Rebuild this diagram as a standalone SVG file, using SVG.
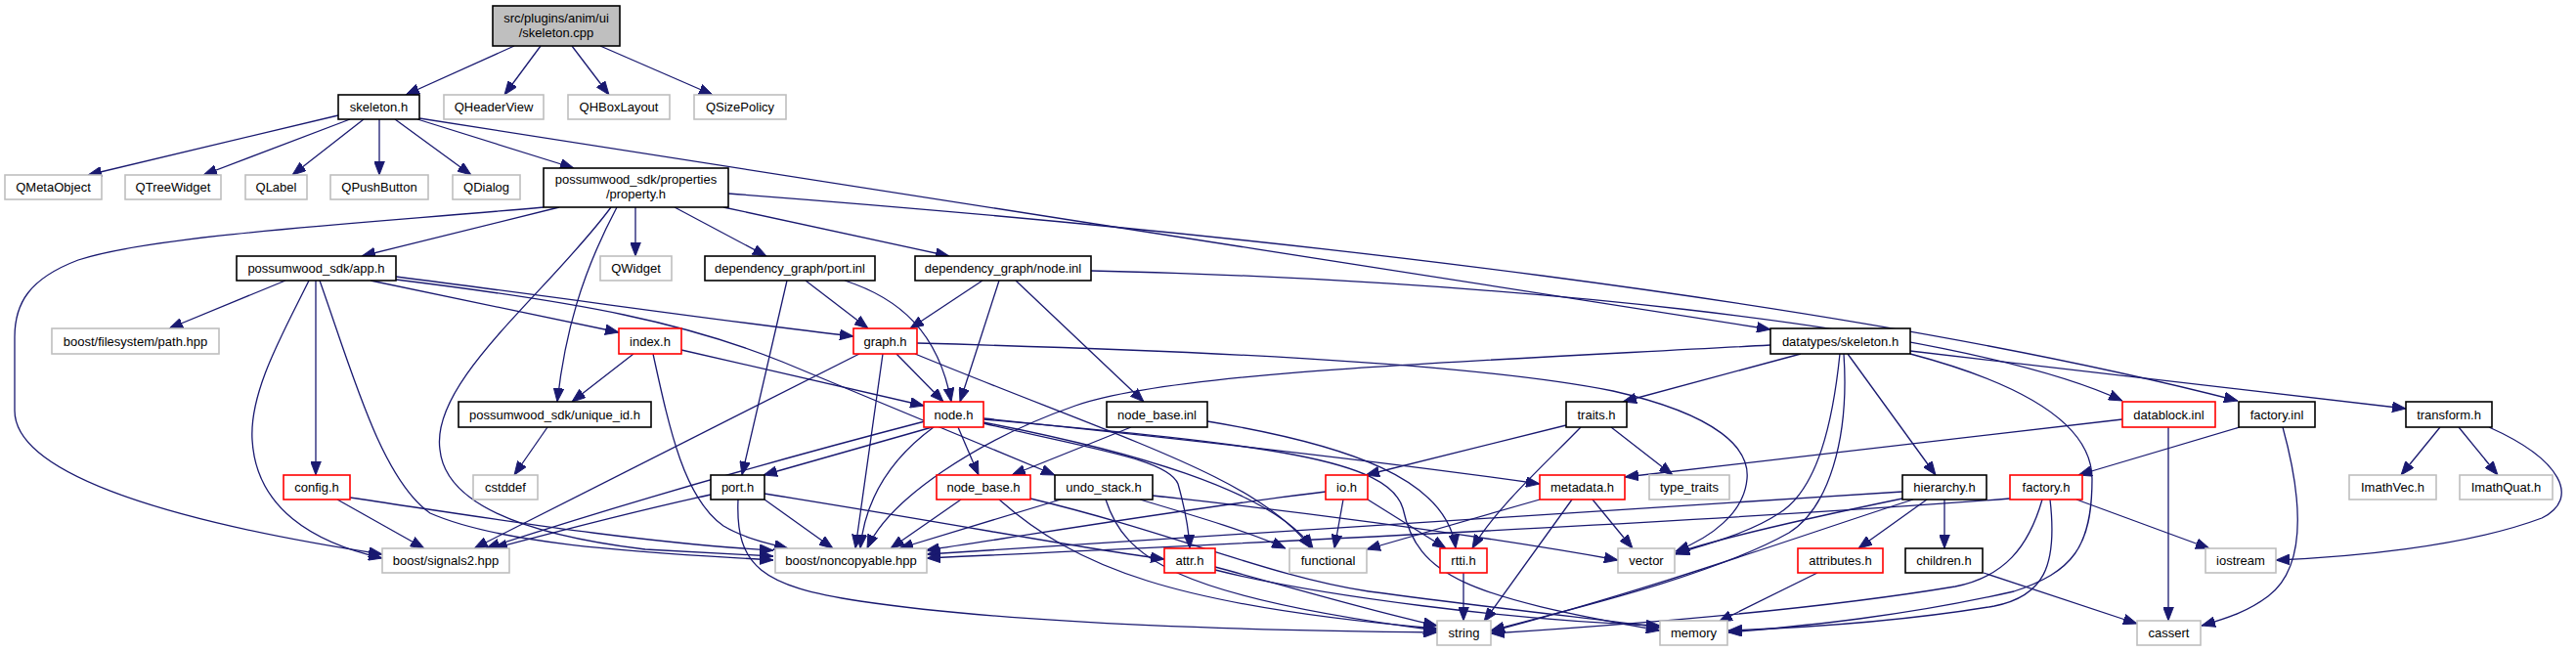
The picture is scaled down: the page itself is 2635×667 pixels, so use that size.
<svg xmlns="http://www.w3.org/2000/svg" width="2635" height="667" viewBox="0 0 2635 667">
<style>
rect{fill:#ffffff;stroke-width:1.6}
.b rect{stroke:#000000}
.g rect{stroke:#bfbfbf}
.r rect{stroke:#ff0000}
.root rect{fill:#bfbfbf;stroke:#000000}
text{font-family:"Liberation Sans",Arial,Helvetica,sans-serif;font-size:13px;text-anchor:middle;fill:#000000}
#edges path{fill:none;stroke:#191970;stroke-width:1.3}
</style>
<defs>
<marker id="a" markerUnits="userSpaceOnUse" markerWidth="14" markerHeight="11" viewBox="0 0 13 10" refX="13" refY="5" orient="auto">
<path d="M0,0 L13,5 L0,10 z" fill="#191970" stroke="#191970" stroke-width="0.8"/>
</marker>
</defs>
<rect x="0" y="0" width="2635" height="667" style="fill:#ffffff;stroke:none"/>
<g id="edges" marker-end="url(#a)">
<path d="M526,47 L415,97"/>
<path d="M553,47 L516,97"/>
<path d="M585,47 L623,97"/>
<path d="M614,47 L729,97"/>
<path d="M346,118 L90,179"/>
<path d="M358,122 L208,179"/>
<path d="M372,122 L299,179"/>
<path d="M388,122 L388,179"/>
<path d="M404,122 L482,179"/>
<path d="M427,122 L587,172"/>
<path d="M429,121 L1811,337"/>
<path d="M572,212 L370,262"/>
<path d="M556,212 C 380,228 160,240 80,266 C 30,285 15,310 15,345 L 15,420 C 15,480 150,530 391,567"/>
<path d="M625,212 C 560,300 440,390 450,460 C 455,510 520,545 660,562 L 791,569"/>
<path d="M631,212 C 595,280 578,340 570,411"/>
<path d="M650,212 L650,262"/>
<path d="M690,212 L784,262"/>
<path d="M740,212 L971,262"/>
<path d="M745,198 C 1300,240 1900,310 2289,410"/>
<path d="M292,287 L173,336"/>
<path d="M316,287 C 290,340 255,400 258,450 C 262,520 320,555 391,571"/>
<path d="M323,287 L323,486"/>
<path d="M327,287 C 360,380 390,490 440,525 C 520,560 680,566 791,573"/>
<path d="M379,287 L633,340"/>
<path d="M405,283 C 600,308 750,330 873,344"/>
<path d="M405,286 C 600,310 700,330 800,370 L 1079,486"/>
<path d="M805,287 L759,486"/>
<path d="M824,287 L888,336"/>
<path d="M864,287 C 920,305 960,340 973,411"/>
<path d="M1005,287 L931,336"/>
<path d="M1022,287 L982,411"/>
<path d="M1039,287 L1170,411"/>
<path d="M1116,277 C 1500,285 2000,330 2171,410"/>
<path d="M648,362 L585,411"/>
<path d="M697,358 L945,415"/>
<path d="M668,362 C 685,440 700,510 740,538 C 760,550 785,556 806,561"/>
<path d="M879,362 L485,561"/>
<path d="M903,362 L875,561"/>
<path d="M917,362 L965,411"/>
<path d="M938,351 C 1200,358 1500,370 1650,400 C 1760,425 1790,460 1787,490 C 1784,525 1750,550 1714,564"/>
<path d="M936,362 C 1150,450 1290,490 1341,561"/>
<path d="M957,436 L781,486"/>
<path d="M946,431 Q 700,495 497,561"/>
<path d="M955,437 C 910,470 885,510 880,561"/>
<path d="M980,437 L1001,486"/>
<path d="M1006,433 C 1120,460 1195,470 1205,495 C 1212,520 1216,540 1217,561"/>
<path d="M1006,428 C 1200,448 1400,470 1575,495"/>
<path d="M1006,429 C 1300,455 1420,470 1435,520 C 1450,590 1500,610 1698,645"/>
<path d="M1006,432 C 1150,460 1300,500 1343,561"/>
<path d="M727,506 Q 640,525 505,561"/>
<path d="M782,511 L852,561"/>
<path d="M782,505 C 1000,540 1100,560 1191,572"/>
<path d="M755,511 C 752,580 780,600 880,615 C 1050,640 1300,645 1470,647"/>
<path d="M983,511 L911,561"/>
<path d="M1022,511 C 1100,580 1200,620 1470,643"/>
<path d="M1054,510 C 1200,545 1300,590 1400,605 C 1550,625 1650,635 1698,642"/>
<path d="M1085,511 L920,561"/>
<path d="M1131,511 C 1150,570 1200,610 1470,645"/>
<path d="M1166,511 C 1230,530 1280,545 1315,561"/>
<path d="M1179,507 C 1300,520 1500,545 1655,573"/>
<path d="M1243,580 C 1300,595 1400,625 1470,640"/>
<path d="M1243,583 C 1350,610 1550,635 1698,640"/>
<path d="M1157,437 L1035,486"/>
<path d="M1235,431 C 1380,455 1480,490 1489,561"/>
<path d="M1811,353 C 1500,370 1200,380 1100,415 C 1000,450 910,510 887,561"/>
<path d="M1842,362 L1660,411"/>
<path d="M1882,362 C 1875,430 1860,500 1820,525 C 1790,545 1750,555 1714,567"/>
<path d="M1886,362 C 1892,450 1870,520 1830,545 C 1750,590 1600,625 1525,645"/>
<path d="M1890,362 L1980,486"/>
<path d="M1954,362 C 2060,390 2140,430 2140,490 C 2140,560 2120,585 2060,605 C 1950,630 1850,640 1768,647"/>
<path d="M1954,359 L2461,418"/>
<path d="M1602,435 L1397,486"/>
<path d="M1617,437 C 1580,475 1530,520 1506,561"/>
<path d="M1648,437 L1711,486"/>
<path d="M1374,511 L1365,561"/>
<path d="M1399,511 L1479,561"/>
<path d="M1356,503 C 1200,522 1050,548 947,563"/>
<path d="M1575,511 L1398,562"/>
<path d="M1608,511 L1518,636"/>
<path d="M1629,511 L1670,561"/>
<path d="M1497,586 L1497,635"/>
<path d="M1946,503 C 1800,512 1400,540 948,567"/>
<path d="M1946,510 C 1850,530 1760,550 1714,566"/>
<path d="M1957,511 C 1850,545 1700,600 1525,646"/>
<path d="M1971,511 L1901,561"/>
<path d="M1989,511 L1989,561"/>
<path d="M1859,586 L1758,636"/>
<path d="M2029,586 L2186,638"/>
<path d="M2056,510 C 1800,530 1400,550 948,571"/>
<path d="M2089,511 C 2075,560 2050,590 2000,600 C 1850,625 1650,640 1525,648"/>
<path d="M2097,511 C 2105,580 2090,610 2040,620 C 1950,635 1850,642 1768,645"/>
<path d="M2124,511 L2260,561"/>
<path d="M2171,429 L1662,488"/>
<path d="M2218,437 L2218,635"/>
<path d="M2291,437 L2126,486"/>
<path d="M2335,437 C 2355,510 2360,580 2320,610 C 2300,625 2280,632 2252,640"/>
<path d="M2496,437 L2456,486"/>
<path d="M2515,437 L2555,486"/>
<path d="M2546,437 C 2620,470 2640,510 2600,530 C 2520,560 2400,570 2328,573"/>
<path d="M345,511 L434,561"/>
<path d="M358,509 C 500,530 650,555 791,563"/>
<path d="M560,437 L526,486"/>
</g>
<g id="n_cpp" class="root"><rect x="504" y="6" width="130" height="41"/><text x="569" y="23">src/plugins/anim/ui</text><text x="569" y="38">/skeleton.cpp</text></g>
<g id="n_skeleton_h" class="b"><rect x="346" y="97" width="83" height="25"/><text x="387.5" y="114">skeleton.h</text></g>
<g id="n_QHeaderView" class="g"><rect x="454" y="97" width="102" height="25"/><text x="505" y="114">QHeaderView</text></g>
<g id="n_QHBoxLayout" class="g"><rect x="581" y="97" width="104" height="25"/><text x="633" y="114">QHBoxLayout</text></g>
<g id="n_QSizePolicy" class="g"><rect x="710" y="97" width="94" height="25"/><text x="757" y="114">QSizePolicy</text></g>
<g id="n_QMetaObject" class="g"><rect x="5" y="179" width="99" height="25"/><text x="54.5" y="196">QMetaObject</text></g>
<g id="n_QTreeWidget" class="g"><rect x="128" y="179" width="98" height="25"/><text x="177" y="196">QTreeWidget</text></g>
<g id="n_QLabel" class="g"><rect x="251" y="179" width="63" height="25"/><text x="282.5" y="196">QLabel</text></g>
<g id="n_QPushButton" class="g"><rect x="338" y="179" width="100" height="25"/><text x="388" y="196">QPushButton</text></g>
<g id="n_QDialog" class="g"><rect x="463" y="179" width="69" height="25"/><text x="497.5" y="196">QDialog</text></g>
<g id="n_property_h" class="b"><rect x="556" y="172" width="189" height="40"/><text x="650.5" y="188">possumwood_sdk/properties</text><text x="650.5" y="203">/property.h</text></g>
<g id="n_app_h" class="b"><rect x="242" y="262" width="163" height="25"/><text x="323.5" y="279">possumwood_sdk/app.h</text></g>
<g id="n_QWidget" class="g"><rect x="614" y="262" width="73" height="25"/><text x="650.5" y="279">QWidget</text></g>
<g id="n_port_inl" class="b"><rect x="721" y="262" width="174" height="25"/><text x="808" y="279">dependency_graph/port.inl</text></g>
<g id="n_node_inl" class="b"><rect x="936" y="262" width="180" height="25"/><text x="1026" y="279">dependency_graph/node.inl</text></g>
<g id="n_path_hpp" class="g"><rect x="53" y="336" width="171" height="26"/><text x="138.5" y="353.5">boost/filesystem/path.hpp</text></g>
<g id="n_index_h" class="r"><rect x="633" y="336" width="64" height="26"/><text x="665" y="353.5">index.h</text></g>
<g id="n_graph_h" class="r"><rect x="873" y="336" width="65" height="26"/><text x="905.5" y="353.5">graph.h</text></g>
<g id="n_dt_skeleton_h" class="b"><rect x="1811" y="336" width="143" height="26"/><text x="1882.5" y="353.5">datatypes/skeleton.h</text></g>
<g id="n_unique_id_h" class="b"><rect x="469" y="411" width="197" height="26"/><text x="567.5" y="428.5">possumwood_sdk/unique_id.h</text></g>
<g id="n_node_h" class="r"><rect x="945" y="411" width="61" height="26"/><text x="975.5" y="428.5">node.h</text></g>
<g id="n_node_base_inl" class="b"><rect x="1132" y="411" width="103" height="26"/><text x="1183.5" y="428.5">node_base.inl</text></g>
<g id="n_traits_h" class="b"><rect x="1602" y="411" width="62" height="26"/><text x="1633" y="428.5">traits.h</text></g>
<g id="n_datablock_inl" class="r"><rect x="2171" y="411" width="95" height="26"/><text x="2218.5" y="428.5">datablock.inl</text></g>
<g id="n_factory_inl" class="b"><rect x="2290" y="411" width="78" height="26"/><text x="2329" y="428.5">factory.inl</text></g>
<g id="n_transform_h" class="b"><rect x="2461" y="411" width="88" height="26"/><text x="2505" y="428.5">transform.h</text></g>
<g id="n_config_h" class="r"><rect x="290" y="486" width="68" height="25"/><text x="324" y="503">config.h</text></g>
<g id="n_cstddef" class="g"><rect x="484" y="486" width="66" height="25"/><text x="517" y="503">cstddef</text></g>
<g id="n_port_h" class="b"><rect x="727" y="486" width="55" height="25"/><text x="754.5" y="503">port.h</text></g>
<g id="n_node_base_h" class="r"><rect x="958" y="486" width="96" height="25"/><text x="1006" y="503">node_base.h</text></g>
<g id="n_undo_stack_h" class="b"><rect x="1079" y="486" width="100" height="25"/><text x="1129" y="503">undo_stack.h</text></g>
<g id="n_io_h" class="r"><rect x="1356" y="486" width="43" height="25"/><text x="1377.5" y="503">io.h</text></g>
<g id="n_metadata_h" class="r"><rect x="1575" y="486" width="87" height="25"/><text x="1618.5" y="503">metadata.h</text></g>
<g id="n_type_traits" class="g"><rect x="1687" y="486" width="82" height="25"/><text x="1728" y="503">type_traits</text></g>
<g id="n_hierarchy_h" class="b"><rect x="1946" y="486" width="86" height="25"/><text x="1989" y="503">hierarchy.h</text></g>
<g id="n_factory_h" class="r"><rect x="2056" y="486" width="74" height="25"/><text x="2093" y="503">factory.h</text></g>
<g id="n_ImathVec_h" class="g"><rect x="2403" y="486" width="89" height="25"/><text x="2447.5" y="503">ImathVec.h</text></g>
<g id="n_ImathQuat_h" class="g"><rect x="2516" y="486" width="95" height="25"/><text x="2563.5" y="503">ImathQuat.h</text></g>
<g id="n_signals2_hpp" class="g"><rect x="391" y="561" width="130" height="25"/><text x="456" y="578">boost/signals2.hpp</text></g>
<g id="n_noncopyable_hpp" class="g"><rect x="793" y="561" width="155" height="25"/><text x="870.5" y="578">boost/noncopyable.hpp</text></g>
<g id="n_attr_h" class="r"><rect x="1191" y="561" width="52" height="25"/><text x="1217" y="578">attr.h</text></g>
<g id="n_functional" class="g"><rect x="1319" y="561" width="79" height="25"/><text x="1358.5" y="578">functional</text></g>
<g id="n_rtti_h" class="r"><rect x="1473" y="561" width="48" height="25"/><text x="1497" y="578">rtti.h</text></g>
<g id="n_vector" class="g"><rect x="1655" y="561" width="58" height="25"/><text x="1684" y="578">vector</text></g>
<g id="n_attributes_h" class="r"><rect x="1839" y="561" width="87" height="25"/><text x="1882.5" y="578">attributes.h</text></g>
<g id="n_children_h" class="b"><rect x="1949" y="561" width="79" height="25"/><text x="1988.5" y="578">children.h</text></g>
<g id="n_iostream" class="g"><rect x="2256" y="561" width="72" height="25"/><text x="2292" y="578">iostream</text></g>
<g id="n_string" class="g"><rect x="1470" y="635" width="55" height="25"/><text x="1497.5" y="652">string</text></g>
<g id="n_memory" class="g"><rect x="1698" y="635" width="69" height="25"/><text x="1732.5" y="652">memory</text></g>
<g id="n_cassert" class="g"><rect x="2186" y="635" width="65" height="25"/><text x="2218.5" y="652">cassert</text></g>
</svg>
